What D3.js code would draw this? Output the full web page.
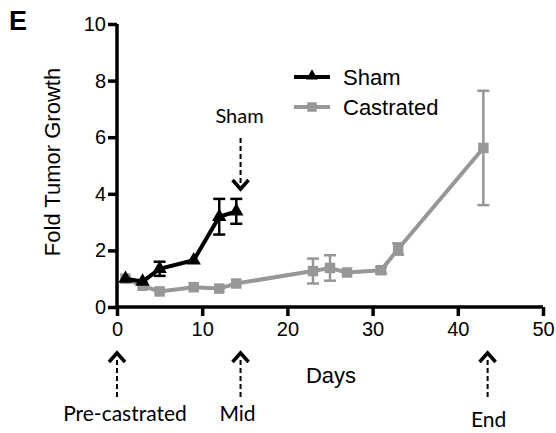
<!DOCTYPE html>
<html><head><meta charset="utf-8">
<script src="https://cdn.jsdelivr.net/npm/d3@7"></script>
<style>body{margin:0;background:#fff}svg{display:block}</style>
</head><body>
<script>
const shamDays = [1, 3, 5, 9, 12, 14];
const shamMean = [1.0, 0.9, 1.35, 1.65, 3.19, 3.38];
const shamErr  = [0, 0, 0.25, 0, 0.63, 0.44];
const castDays = [1, 3, 5, 9, 12, 14, 23, 25, 27, 31, 33, 43];
const castMean = [1.0, 0.75, 0.55, 0.7, 0.65, 0.83, 1.27, 1.38, 1.22, 1.3, 2.05, 5.62];
const castErr  = [0, 0, 0, 0, 0, 0, 0.44, 0.45, 0, 0.12, 0.2, 2.02];
const xTicks = [0, 10, 20, 30, 40, 50];
const yTicks = [0, 2, 4, 6, 8, 10];
const seriesNames = ["Sham", "Castrated"];
const markerDays = [0, 14.5, 43.5];
const markerLabels = ["Pre-castrated", "Mid", "End"];

const W = 556, H = 433;
const svg = d3.select("body").append("svg").attr("width", W).attr("height", H);
const x = d3.scaleLinear().domain([0, 50]).range([117, 543]);
const y = d3.scaleLinear().domain([0, 10]).range([307, 24]);
const arial = "Liberation Sans, Arial, sans-serif";

// axes
const xAx = svg.append("g").attr("transform", "translate(0,307)")
  .call(d3.axisBottom(x).tickValues(xTicks).tickSize(9).tickSizeOuter(0).tickPadding(6));
const yAx = svg.append("g").attr("transform", "translate(117,0)")
  .call(d3.axisLeft(y).tickValues(yTicks).tickSize(9).tickSizeOuter(0).tickPadding(2));
[xAx, yAx].forEach(g => {
  g.select(".domain").attr("stroke", "#000").attr("stroke-width", 3.5);
  g.selectAll(".tick line").attr("stroke", "#000").attr("stroke-width", 3.5);
  g.selectAll(".tick text").attr("font-family", arial).attr("font-size", 20).attr("fill", "#000");
});
xAx.select(".domain").attr("d", `M${x(0)},0H${x(50)}`);
yAx.select(".domain").attr("d", `M0,${y(10)}V${y(0)}`);

svg.append("text").attr("x", 52).attr("y", 162).attr("transform", "rotate(-90,52,162)")
  .attr("text-anchor", "middle").attr("dominant-baseline", "central").attr("fill", "#000")
  .attr("font-family", arial).attr("font-size", 22).text("Fold Tumor Growth");
svg.append("text").attr("x", 331).attr("y", 383).attr("text-anchor", "middle").attr("fill", "#000")
  .attr("font-family", arial).attr("font-size", 22).text("Days");
svg.append("text").attr("x", 9).attr("y", 30).attr("fill", "#000")
  .attr("font-family", arial).attr("font-size", 27).attr("font-weight", "bold").text("E");

const gray = "#979797";
function drawSeries(days, mean, err, color, shape) {
  const pts = days.map((d, i) => ({d, m: mean[i], e: err[i]}));
  const line = d3.line().x(p => x(p.d)).y(p => y(p.m));
  svg.append("path").datum(pts).attr("d", line).attr("fill", "none").attr("stroke", color).attr("stroke-width", 4);
  const eg = svg.append("g").attr("stroke", color).attr("stroke-width", 2.5);
  pts.filter(p => p.e > 0).forEach(p => {
    eg.append("line").attr("x1", x(p.d)).attr("x2", x(p.d)).attr("y1", y(p.m - p.e)).attr("y2", y(p.m + p.e));
    [p.m - p.e, p.m + p.e].forEach(v => eg.append("line").attr("x1", x(p.d) - 6).attr("x2", x(p.d) + 6).attr("y1", y(v)).attr("y2", y(v)));
  });
  const sym = d3.symbol().type(shape).size(shape === d3.symbolSquare ? 110 : 90);
  svg.append("g").selectAll("path").data(pts).join("path")
    .attr("transform", p => `translate(${x(p.d)},${y(p.m)})`).attr("d", sym).attr("fill", color);
}
drawSeries(castDays, castMean, castErr, gray, d3.symbolSquare);
drawSeries(shamDays, shamMean, shamErr, "#000", d3.symbolTriangle);

// legend
const legColors = ["#000", gray];
const legShapes = [d3.symbolTriangle, d3.symbolSquare];
seriesNames.forEach((n, i) => {
  const ly = 77 + i * 30;
  svg.append("line").attr("x1", 294).attr("x2", 330).attr("y1", ly).attr("y2", ly).attr("stroke", legColors[i]).attr("stroke-width", 4);
  svg.append("path").attr("transform", `translate(312,${ly - (i === 0 ? 1 : 0)})`)
    .attr("d", d3.symbol().type(legShapes[i]).size(i === 0 ? 60 : 90)).attr("fill", legColors[i]);
  svg.append("text").attr("x", 343).attr("y", ly + 8).attr("fill", "#000").attr("font-family", arial)
    .attr("font-size", 22).text(n);
});

// annotation arrows
const annoFont = "Lato, 'Open Sans', sans-serif";
function arrow(xp, yTip, yTail, dir) {
  svg.append("line").attr("x1", xp).attr("x2", xp).attr("y1", yTail).attr("y2", yTip + dir * 4)
    .attr("stroke", "#000").attr("stroke-width", 2).attr("stroke-dasharray", "5,3");
  const h = 9, w = 8;
  svg.append("path").attr("d", `M${xp - w},${yTip + dir * h}L${xp},${yTip}L${xp + w},${yTip + dir * h}`)
    .attr("fill", "none").attr("stroke", "#000").attr("stroke-width", 3.5).attr("stroke-linejoin", "miter");
}
const shamX = x(markerDays[1]);
svg.append("text").attr("x", shamX - 1).attr("y", 123).attr("text-anchor", "middle").attr("fill", "#000")
  .attr("font-family", annoFont).attr("font-size", 20).text(seriesNames[0]);
arrow(shamX, 189, 138, -1);
markerDays.forEach((d, i) => {
  arrow(x(d), 353, 397, 1);
  svg.append("text").attr("x", x(d) + (i === 0 ? 8 : i === 1 ? -3 : 1)).attr("y", i === 2 ? 427 : 421).attr("text-anchor", "middle")
    .attr("fill", "#000").attr("font-family", annoFont).attr("font-size", 21).text(markerLabels[i]);
});
</script>
</body></html>
